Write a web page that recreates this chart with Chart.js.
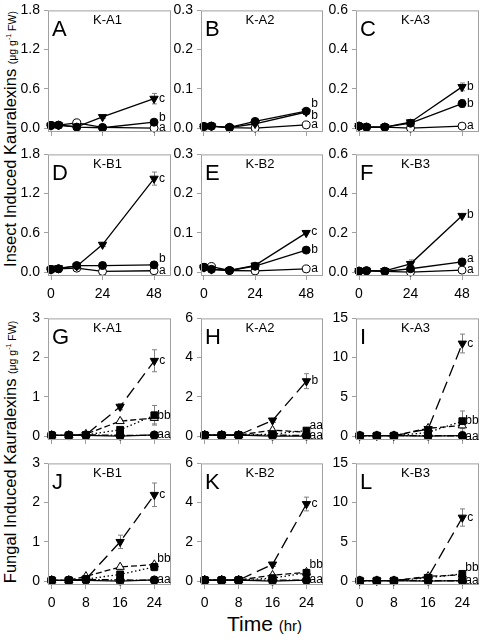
<!DOCTYPE html>
<html>
<head>
<meta charset="utf-8">
<script src="https://cdn.jsdelivr.net/npm/chart.js@4"></script>
<style>
  html, body { margin: 0; padding: 0; background: #fff; width: 480px; height: 640px; overflow: hidden; }
  canvas { position: absolute; }
  .yt { position: absolute; white-space: nowrap; transform: translate(-50%, -50%) rotate(-90deg);
        font-family: "Liberation Sans", Arial, sans-serif; font-size: 16.5px; color: #000; }
  .yt .u { font-size: 10.5px; }
  .yt sup { font-size: 7px; }
  .xt { position: absolute; white-space: nowrap; font-family: "Liberation Sans", Arial, sans-serif; font-size: 21px; color: #000; }
  .xt .u { font-size: 15px; }
</style>
</head>
<body>
<div class="yt" style="left:10px; top:139px">Insect Induced Kauralexins <span class="u">(μg g<sup>-1</sup> FW)</span></div>
<div class="yt" style="left:10px; top:452px">Fungal Induced Kauralexins <span class="u">(μg g<sup>-1</sup> FW)</span></div>
<div class="xt" style="left:227px; top:612px">Time <span class="u">(hr)</span></div>
<script>
// time points
const insectHours = [0, 3.5, 12, 24, 48];
const fungalHours = [0, 4, 8, 16, 24];
const insectXTicks = [0, 24, 48];
const fungalXTicks = [0, 8, 16, 24];

// insect panels: open circle, filled circle, filled triangle
const A_open = [0.04, 0.045, 0.08, 0.01, 0.0];
const A_fill = [0.04, 0.045, 0.015, 0.005, 0.09];
const A_tri = [0.04, 0.045, 0.02, 0.17, 0.45];
const A_triErr = [0, 0, 0, 0.02, 0.08];

const B_open = [0.004, 0.005, 0.001, 0.0, 0.008];
const B_fill = [0.004, 0.005, 0.002, 0.017, 0.043];
const B_tri = [0.004, 0.005, 0.001, 0.011, 0.041];
const B_fillErr = [0, 0, 0, 0.003, 0.004];

const C_open = [0.01, 0.005, 0.005, 0.0, 0.01];
const C_fill = [0.01, 0.005, 0.005, 0.025, 0.125];
const C_tri = [0.01, 0.005, 0.005, 0.03, 0.21];
const C_fillErr = [0, 0, 0, 0, 0.02];
const C_triErr = [0, 0, 0, 0.005, 0.02];

const D_open = [0.04, 0.05, 0.06, 0.01, 0.02];
const D_fill = [0.04, 0.05, 0.1, 0.1, 0.11];
const D_tri = [0.04, 0.06, 0.09, 0.42, 1.43];
const D_fillErr = [0, 0, 0, 0.05, 0];
const D_triErr = [0, 0, 0, 0.03, 0.1];

const E_open = [0.012, 0.014, 0.004, 0.003, 0.008];
const E_fill = [0.012, 0.007, 0.004, 0.015, 0.056];
const E_tri = [0.012, 0.007, 0.004, 0.017, 0.10];
const E_fillErr = [0, 0, 0, 0.003, 0.003];

const F_open = [0.005, 0.007, 0.004, 0.0, 0.01];
const F_fill = [0.005, 0.007, 0.004, 0.017, 0.052];
const F_tri = [0.005, 0.007, 0.006, 0.042, 0.287];
const F_fillErr = [0, 0, 0, 0, 0.015];
const F_triErr = [0, 0, 0, 0.02, 0.005];

// fungal panels: open circle, filled circle, open triangle, square, filled triangle
const G_open = [0.02, 0.02, 0.02, 0.0, 0.03];
const G_fill = [0.02, 0.02, 0.03, 0.02, 0.02];
const G_up = [0.02, 0.02, 0.05, 0.38, 0.46];
const G_sq = [0.02, 0.02, 0.03, 0.16, 0.53];
const G_tri = [0.02, 0.02, 0.03, 0.75, 1.92];
const G_upErr = [0, 0, 0, 0.05, 0.15];
const G_sqErr = [0, 0, 0, 0.05, 0.25];
const G_triErr = [0, 0, 0, 0.08, 0.28];

const H_open = [0.05, 0.05, 0.05, 0.0, 0.0];
const H_fill = [0.05, 0.05, 0.05, 0.05, 0.03];
const H_up = [0.05, 0.05, 0.05, 0.3, 0.2];
const H_sq = [0.05, 0.05, 0.05, 0.1, 0.28];
const H_tri = [0.05, 0.05, 0.05, 0.8, 2.8];
const H_triErr = [0, 0, 0, 0.1, 0.38];

const I_open = [0.05, 0.05, 0.05, 0.0, 0.05];
const I_fill = [0.05, 0.05, 0.05, 0.05, 0.04];
const I_up = [0.05, 0.05, 0.05, 1.0, 1.35];
const I_sq = [0.05, 0.05, 0.05, 0.45, 1.9];
const I_tri = [0.05, 0.05, 0.05, 0.9, 11.8];
const I_upErr = [0, 0, 0, 0, 0.4];
const I_sqErr = [0, 0, 0, 0, 1.3];
const I_triErr = [0, 0, 0, 0, 1.2];

const J_open = [0.02, 0.02, 0.02, 0.0, 0.03];
const J_fill = [0.02, 0.02, 0.04, 0.03, 0.02];
const J_up = [0.02, 0.02, 0.12, 0.36, 0.42];
const J_sq = [0.02, 0.02, 0.05, 0.17, 0.36];
const J_tri = [0.02, 0.02, 0.05, 1.0, 2.2];
const J_sqErr = [0, 0, 0, 0.03, 0.1];
const J_triErr = [0, 0, 0, 0.17, 0.3];

const K_open = [0.05, 0.05, 0.05, 0.0, 0.05];
const K_fill = [0.05, 0.05, 0.05, 0.05, 0.04];
const K_up = [0.05, 0.05, 0.05, 0.3, 0.45];
const K_sq = [0.05, 0.05, 0.05, 0.15, 0.42];
const K_tri = [0.05, 0.05, 0.05, 0.85, 3.93];
const K_triErr = [0, 0, 0, 0.1, 0.35];

const L_open = [0.05, 0.05, 0.05, 0.0, 0.05];
const L_fill = [0.05, 0.05, 0.05, 0.05, 0.04];
const L_up = [0.05, 0.05, 0.05, 0.6, 0.8];
const L_sq = [0.05, 0.05, 0.05, 0.42, 0.92];
const L_tri = [0.05, 0.05, 0.05, 0.5, 8.1];
const L_triErr = [0, 0, 0, 0.1, 1.1];

const FONT = '"Liberation Sans", Arial, sans-serif';
const BOX = '#a0a0a0';
const ERR = '#808080';

Chart.defaults.font.family = FONT;
Chart.defaults.animation = false;

// plot box positions on the page
const cols = [[48, 171], [201, 323], [356, 479]];
const rows = [[8, 132], [152, 276], [316, 440], [461, 585]];

const sOpen = { shape: 'circle', fill: '#fff', r: 4, dash: [], order: 5 };
const sFill = { shape: 'circle', fill: '#000', r: 4, dash: [], order: 1 };
const sTri = { shape: 'triangle', rot: 180, fill: '#000', r: 4.8, dash: [], order: 2 };
const sFFill = { shape: 'circle', fill: '#000', r: 4, dash: [7, 2, 1.5, 2], order: 1 };
const sUp = { shape: 'triangle', fill: '#fff', r: 4.8, dash: [6, 3], order: 4 };
const sSq = { shape: 'rect', fill: '#000', r: 4.8, dash: [1.5, 2.5], order: 3 };
const sFTri = { shape: 'triangle', rot: 180, fill: '#000', r: 4.8, dash: [12, 6], order: 2 };

const panels = [
  { col: 0, row: 0, letter: 'A', title: 'K-A1', hours: insectHours, xTicks: insectXTicks, xLabels: false,
    yTicks: [0, 0.6, 1.2, 1.8], dec: 1,
    series: [[A_open, null, sOpen], [A_fill, null, sFill], [A_tri, A_triErr, sTri]],
    sig: [[2, 'c', 0], [1, 'b', -5], [0, 'a', 0]] },
  { col: 1, row: 0, letter: 'B', title: 'K-A2', hours: insectHours, xTicks: insectXTicks, xLabels: false,
    yTicks: [0, 0.1, 0.2, 0.3], dec: 1,
    series: [[B_open, null, sOpen], [B_fill, B_fillErr, sFill], [B_tri, null, sTri]],
    sig: [[1, 'b', -8], [2, 'b', 4], [0, 'a', 0]] },
  { col: 2, row: 0, letter: 'C', title: 'K-A3', hours: insectHours, xTicks: insectXTicks, xLabels: false,
    yTicks: [0, 0.2, 0.4, 0.6], dec: 1,
    series: [[C_open, null, sOpen], [C_fill, C_fillErr, sFill], [C_tri, C_triErr, sTri]],
    sig: [[2, 'b', 0], [1, 'b', 0], [0, 'a', 0]] },
  { col: 0, row: 1, letter: 'D', title: 'K-B1', hours: insectHours, xTicks: insectXTicks, xLabels: true,
    yTicks: [0, 0.6, 1.2, 1.8], dec: 1,
    series: [[D_open, null, sOpen], [D_fill, D_fillErr, sFill], [D_tri, D_triErr, sTri]],
    sig: [[2, 'c', 0], [1, 'b', -6], [0, 'a', 0]] },
  { col: 1, row: 1, letter: 'E', title: 'K-B2', hours: insectHours, xTicks: insectXTicks, xLabels: true,
    yTicks: [0, 0.1, 0.2, 0.3], dec: 1,
    series: [[E_open, null, sOpen], [E_fill, E_fillErr, sFill], [E_tri, null, sTri]],
    sig: [[2, 'c', -1], [1, 'b', 0], [0, 'a', 0]] },
  { col: 2, row: 1, letter: 'F', title: 'K-B3', hours: insectHours, xTicks: insectXTicks, xLabels: true,
    yTicks: [0, 0.2, 0.4, 0.6], dec: 1,
    series: [[F_open, null, sOpen], [F_fill, F_fillErr, sFill], [F_tri, F_triErr, sTri]],
    sig: [[2, 'b', -1], [1, 'a', -3], [0, 'a', 0]] },
  { col: 0, row: 2, letter: 'G', title: 'K-A1', hours: fungalHours, xTicks: fungalXTicks, xLabels: false,
    yTicks: [0, 1, 2, 3], dec: 0,
    series: [[G_open, null, sOpen], [G_fill, null, sFFill], [G_up, G_upErr, sUp], [G_sq, G_sqErr, sSq], [G_tri, G_triErr, sFTri]],
    sig: [[4, 'c', 0], [3, 'bb', 0], [0, 'aa', 0]] },
  { col: 1, row: 2, letter: 'H', title: 'K-A2', hours: fungalHours, xTicks: fungalXTicks, xLabels: false,
    yTicks: [0, 2, 4, 6], dec: 0,
    series: [[H_open, null, sOpen], [H_fill, null, sFFill], [H_up, null, sUp], [H_sq, null, sSq], [H_tri, H_triErr, sFTri]],
    sig: [[4, 'b', 0], [3, 'aa', -5], [0, 'aa', 0]] },
  { col: 2, row: 2, letter: 'I', title: 'K-A3', hours: fungalHours, xTicks: fungalXTicks, xLabels: false,
    yTicks: [0, 5, 10, 15], dec: 0,
    series: [[I_open, null, sOpen], [I_fill, null, sFFill], [I_up, I_upErr, sUp], [I_sq, I_sqErr, sSq], [I_tri, I_triErr, sFTri]],
    sig: [[4, 'c', 0], [3, 'bb', 0], [0, 'aa', 1]] },
  { col: 0, row: 3, letter: 'J', title: 'K-B1', hours: fungalHours, xTicks: fungalXTicks, xLabels: true,
    yTicks: [0, 1, 2, 3], dec: 0,
    series: [[J_open, null, sOpen], [J_fill, null, sFFill], [J_up, null, sUp], [J_sq, J_sqErr, sSq], [J_tri, J_triErr, sFTri]],
    sig: [[4, 'c', 0], [3, 'bb', -8], [0, 'aa', 0]] },
  { col: 1, row: 3, letter: 'K', title: 'K-B2', hours: fungalHours, xTicks: fungalXTicks, xLabels: true,
    yTicks: [0, 2, 4, 6], dec: 0,
    series: [[K_open, null, sOpen], [K_fill, null, sFFill], [K_up, null, sUp], [K_sq, null, sSq], [K_tri, K_triErr, sFTri]],
    sig: [[4, 'c', 0], [3, 'bb', -8], [0, 'aa', 0]] },
  { col: 2, row: 3, letter: 'L', title: 'K-B3', hours: fungalHours, xTicks: fungalXTicks, xLabels: true,
    yTicks: [0, 5, 10, 15], dec: 0,
    series: [[L_open, null, sOpen], [L_fill, null, sFFill], [L_up, null, sUp], [L_sq, null, sSq], [L_tri, L_triErr, sFTri]],
    sig: [[4, 'c', 0], [3, 'bb', -6], [0, 'aa', 0]] },
];

// error bars under the markers, then box, labels and significance letters on top
const panelDecor = {
  id: 'panelDecor',
  beforeDatasetsDraw(chart) {
    const { ctx, scales: { x, y } } = chart;
    ctx.save();
    ctx.strokeStyle = ERR;
    ctx.lineWidth = 1;
    chart.data.datasets.forEach(ds => {
      if (!ds.err) return;
      ds.data.forEach((pt, i) => {
        const e = ds.err[i];
        if (!e) return;
        const px = Math.round(x.getPixelForValue(pt.x)) + 0.5;
        const y1 = y.getPixelForValue(pt.y + e);
        const y2 = y.getPixelForValue(pt.y - e);
        ctx.beginPath();
        ctx.moveTo(px, y1); ctx.lineTo(px, y2);
        ctx.moveTo(px - 2.5, y1); ctx.lineTo(px + 2.5, y1);
        ctx.moveTo(px - 2.5, y2); ctx.lineTo(px + 2.5, y2);
        ctx.stroke();
      });
    });
    ctx.restore();
  },
  afterDraw(chart) {
    const o = chart.options.plugins.panelDecor;
    const { ctx, chartArea: a, scales: { x, y } } = chart;
    ctx.save();
    ctx.strokeStyle = BOX;
    ctx.lineWidth = 1;
    ctx.strokeRect(a.left + 0.5, a.top + 0.5, a.right - a.left - 1, a.bottom - a.top - 1);
    ctx.fillStyle = '#000';
    ctx.textBaseline = 'alphabetic';
    ctx.font = '22px ' + FONT;
    ctx.textAlign = 'left';
    ctx.fillText(o.letter, a.left + 4, a.top + 26);
    ctx.font = '13px ' + FONT;
    ctx.textAlign = 'center';
    ctx.fillText(o.title, (a.left + a.right) / 2 - 2, a.top + 14);
    ctx.font = '12px ' + FONT;
    ctx.textAlign = 'left';
    ctx.textBaseline = 'middle';
    o.sig.forEach(([si, txt, dy]) => {
      const ds = chart.data.datasets[si];
      const last = ds.data[ds.data.length - 1];
      const gap = txt.length > 1 ? 3 : 5;
      ctx.fillText(txt, x.getPixelForValue(last.x) + gap, y.getPixelForValue(last.y) + dy);
    });
    ctx.restore();
  }
};

const PAD_L = 40, PAD_T = 10, PAD_R = 8, PAD_B = 28;

panels.forEach(p => {
  const [bl, br] = cols[p.col];
  const [bt, bb] = rows[p.row];
  const cv = document.createElement('canvas');
  cv.width = (br - bl) + PAD_L + PAD_R;
  cv.height = (bb - bt) + PAD_T + PAD_B;
  cv.style.left = (bl - PAD_L) + 'px';
  cv.style.top = (bt - PAD_T) + 'px';
  document.body.appendChild(cv);

  const yMax = p.yTicks[p.yTicks.length - 1];
  const insect = p.hours === insectHours;

  new Chart(cv.getContext('2d'), {
    type: 'line',
    data: {
      datasets: p.series.map(([vals, err, st]) => ({
        data: p.hours.map((h, i) => ({ x: h, y: vals[i] })),
        err: err,
        borderColor: '#000',
        borderWidth: 1.3,
        borderDash: st.dash,
        pointStyle: st.shape,
        rotation: st.rot || 0,
        pointRadius: st.r,
        pointBackgroundColor: st.fill,
        pointBorderColor: '#000',
        pointBorderWidth: 1,
        tension: 0,
        order: st.order,
        clip: false
      }))
    },
    options: {
      responsive: false,
      animation: false,
      layout: { padding: { top: PAD_T, right: PAD_R, left: 0, bottom: 0 } },
      plugins: {
        legend: { display: false },
        tooltip: { enabled: false },
        panelDecor: { letter: p.letter, title: p.title, sig: p.sig }
      },
      scales: {
        x: {
          type: 'linear',
          min: insect ? -1.4 : -0.87,
          max: insect ? 55.9 : 27.9,
          afterBuildTicks: s => { s.ticks = p.xTicks.map(v => ({ value: v })); },
          afterFit: s => { s.height = PAD_B; },
          grid: { drawOnChartArea: false, drawTicks: true, tickLength: 4, color: BOX },
          border: { display: false },
          ticks: {
            color: '#000', font: { size: 14 }, padding: 6, maxRotation: 0, autoSkip: false,
            callback: v => p.xLabels ? String(v) : ''
          }
        },
        y: {
          type: 'linear',
          min: -yMax * 4 / 120,
          max: yMax,
          afterBuildTicks: s => { s.ticks = p.yTicks.map(v => ({ value: v })); },
          afterFit: s => { s.width = PAD_L; },
          grid: { drawOnChartArea: false, drawTicks: true, tickLength: 4, color: BOX },
          border: { display: false },
          ticks: {
            color: '#000', font: { size: 14 }, padding: 4, autoSkip: false,
            callback: v => v.toFixed(p.dec)
          }
        }
      }
    },
    plugins: [panelDecor]
  });
});
</script>
</body>
</html>
